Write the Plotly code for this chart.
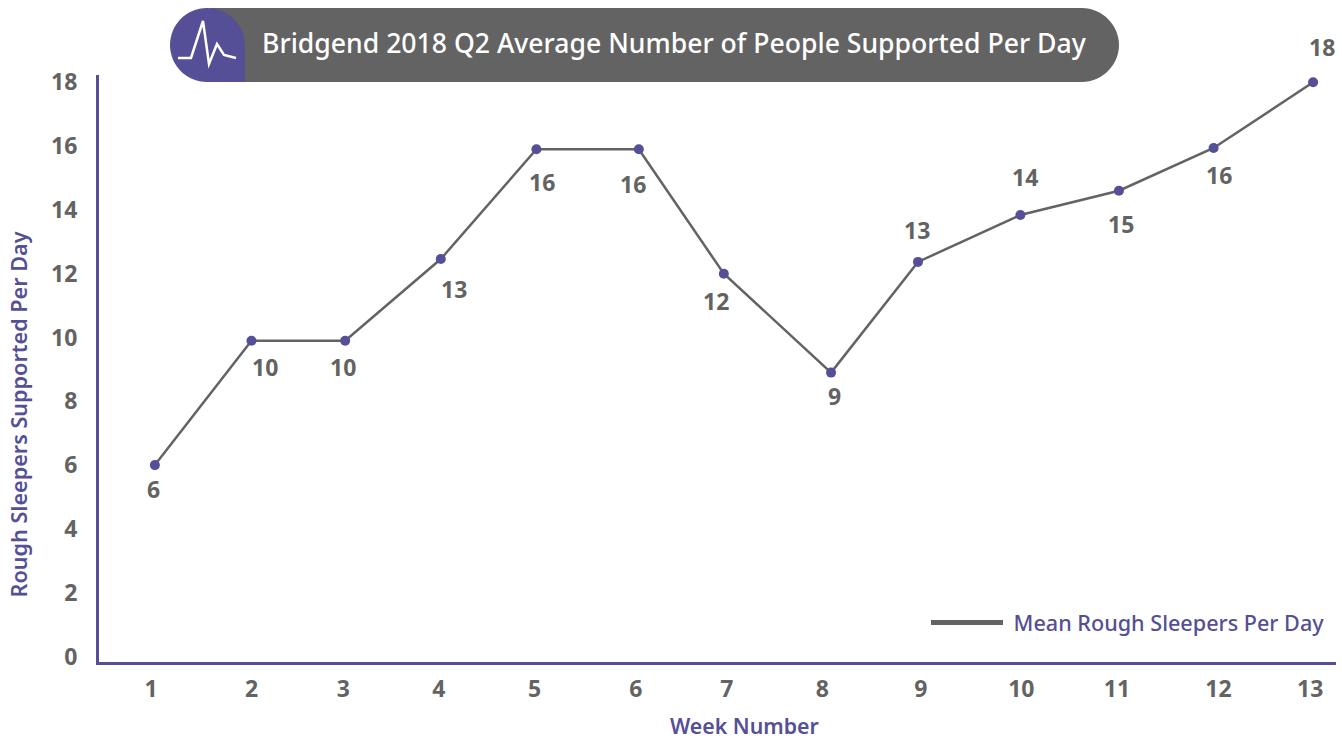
import plotly.graph_objects as go

WIDTH, HEIGHT = 1342, 740
PL, PR, PT, PB = 99, 1336, 75, 662

title_text = "Bridgend 2018 Q2 Average Number of People Supported Per Day"
series_name = "\u00a0Mean Rough Sleepers Per Day"
x_title = "Week Number"
y_title = "Rough Sleepers Supported Per Day"

week_labels = ["1", "2", "3", "4", "5", "6", "7", "8", "9", "10", "11", "12", "13"]
week_ticks = [1.0, 2.04, 2.99, 3.98, 4.97, 6.02, 6.96, 7.95, 8.97, 10.01, 11.0, 12.05, 13.0]
week_x = [1.04, 2.04, 3.01, 4.0, 4.99, 6.05, 6.93, 8.04, 8.94, 10.0, 11.02, 12.0, 13.03]
mean_values = [6.0, 9.9, 9.9, 12.46, 15.9, 15.9, 12.0, 8.9, 12.37, 13.84, 14.6, 15.94, 18.0]
value_labels = ["6", "10", "10", "13", "16", "16", "12", "9", "13", "14", "15", "16", "18"]
label_shift_x = [-1, 14, -2, 13, 6, -6, -8, 3, -1, 5, 2, 5, 9]
label_shift_y = [-24, -26, -26, -30, -33, -35, -27, -23, 32, 38, -33, -27, 35]
y_ticks = [0, 2, 4, 6, 8, 10, 12, 14, 16, 18]

GREY = "#636363"
PURPLE = "#544f96"
FONT = "Noto Sans"

Y_PER_UNIT = 31.9
Y_ZERO_PX = 656.5
X_PER_UNIT = 96.6
X_ONE_PX = 151
x_range = [1 + (PL - X_ONE_PX) / X_PER_UNIT, 1 + (PR - X_ONE_PX) / X_PER_UNIT]
y_range = [(Y_ZERO_PX - PB) / Y_PER_UNIT, (Y_ZERO_PX - PT) / Y_PER_UNIT]


def fx(x):
    return (x - PL) / (PR - PL)


def fy(y):
    return (PB - y) / (PB - PT)


def path(commands):
    out = []
    for c in commands:
        if isinstance(c, str):
            out.append(c)
        else:
            out.append(f"{fx(c[0]):.5f},{fy(c[1]):.5f}")
    return " ".join(out)


pill = path([
    "M", (210, 8), "L", (1082, 8), "C", (1102, 8), (1119, 25), (1119, 45),
    "C", (1119, 65), (1102, 82), (1082, 82), "L", (210, 82), "Z",
])
blob = path([
    "M", (207, 8), "C", (228, 8), (245, 25), (245, 46), "L", (245, 82), "L", (207, 82),
    "C", (186, 82), (170, 65), (170, 45), "C", (170, 25), (186, 8), (207, 8), "Z",
])
icon = path([
    "M", (178, 58), "L", (191, 58), "L", (203, 21), "L", (209, 64), "L", (217, 44),
    "L", (224, 55), "L", (236, 58),
])

fig = go.Figure()
fig.add_trace(go.Scatter(
    x=week_x, y=mean_values, mode="lines", showlegend=False,
    line=dict(color=GREY, width=2.5), hoverinfo="skip",
))
fig.add_trace(go.Scatter(
    x=week_x, y=mean_values, mode="markers", showlegend=False,
    marker=dict(color=PURPLE, size=10),
))
fig.add_trace(go.Scatter(
    x=[None], y=[None], mode="lines", name=series_name,
    line=dict(color=GREY, width=5),
))

annotations = [
    dict(x=xv, y=yv, text=t, xref="x", yref="y", showarrow=False,
         xshift=dx, yshift=dy, font=dict(family=FONT, size=23, color=GREY, weight=700))
    for xv, yv, t, dx, dy in zip(week_x, mean_values, value_labels, label_shift_x, label_shift_y)
]
annotations.append(dict(
    x=fx(260), y=fy(43), xref="x domain", yref="y domain", xanchor="left", yanchor="middle",
    text=title_text, showarrow=False,
    font=dict(family=FONT, size=26.6, color="white", weight=500),
))
annotations.append(dict(
    x=fx(744), y=fy(740), xref="x domain", yref="y domain", xanchor="center", yanchor="bottom",
    text=x_title, showarrow=False, borderpad=0, borderwidth=0,
    font=dict(family=FONT, size=21.3, color=PURPLE, weight=600),
))
annotations.append(dict(
    x=fx(18), y=fy(414.5), xref="x domain", yref="y domain", xanchor="center", yanchor="middle",
    text=y_title, showarrow=False, textangle=-90,
    font=dict(family=FONT, size=21.6, color=PURPLE, weight=600),
))

fig.update_layout(
    width=WIDTH, height=HEIGHT, autosize=False,
    margin=dict(l=PL, r=WIDTH - PR, t=PT, b=HEIGHT - PB, pad=0),
    paper_bgcolor="white", plot_bgcolor="white",
    font=dict(family=FONT, color=GREY),
    showlegend=True,
    legend=dict(
        x=fx(1330), y=fy(623), xref="paper", yref="paper", xanchor="right", yanchor="middle",
        font=dict(family=FONT, size=21.6, color=PURPLE, weight=500), itemwidth=72,
        bgcolor="rgba(0,0,0,0)", itemclick=False,
    ),
    xaxis=dict(
        range=x_range, tickmode="array", tickvals=week_ticks, ticktext=week_labels,
        showgrid=False, zeroline=False, showline=True, linecolor=PURPLE, linewidth=3,
        ticks="", tickfont=dict(family=FONT, size=23, color=GREY, weight=700), ticklabelstandoff=4,
    ),
    yaxis=dict(
        range=y_range, tickmode="array", tickvals=y_ticks, ticktext=[str(v) for v in y_ticks],
        showgrid=False, zeroline=False, showline=True, linecolor=PURPLE, linewidth=3,
        ticks="", tickfont=dict(family=FONT, size=23, color=GREY, weight=700), ticklabelstandoff=14,
    ),
    shapes=[
        dict(type="path", xref="x domain", yref="y domain", path=pill, fillcolor=GREY, line=dict(width=0), layer="above"),
        dict(type="path", xref="x domain", yref="y domain", path=blob, fillcolor=PURPLE, line=dict(width=0), layer="above"),
        dict(type="path", xref="x domain", yref="y domain", path=icon, line=dict(color="white", width=2.5), layer="above"),
    ],
    annotations=annotations,
)

fig.write_html(
    "out.html",
    config=dict(displayModeBar=False, responsive=False),
    post_script="document.body.style.margin='0';document.documentElement.style.overflow='hidden';",
)
